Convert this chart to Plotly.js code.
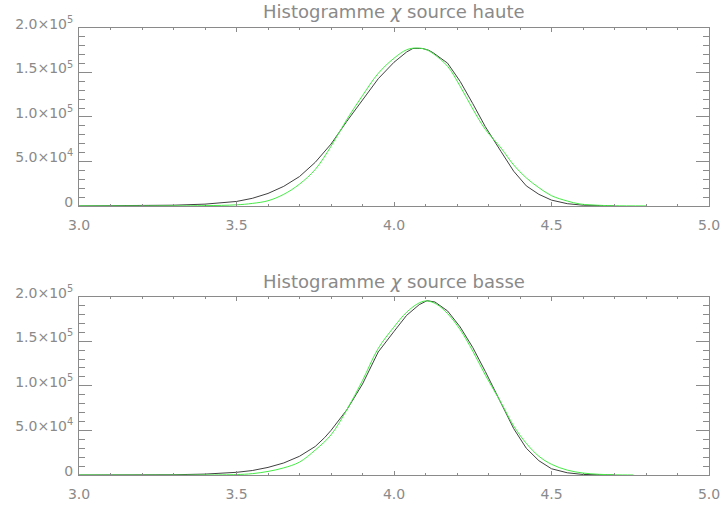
<!DOCTYPE html>
<html>
<head>
<meta charset="utf-8">
<script src="https://cdn.plot.ly/plotly-3.0.1.min.js"></script>
<style>html,body{margin:0;padding:0;background:#fff;}#chart{width:720px;height:506px;}</style>
</head>
<body>
<div id="chart"></div>
<script>
// ---- Data ----
const titleHaute = "Histogramme <i>χ</i> source haute";
const titleBasse = "Histogramme <i>χ</i> source basse";

// Top panel: histogram (black) and gaussian fit (green)
const hauteHistX = [3.00,3.10,3.20,3.30,3.40,3.50,3.55,3.60,3.65,3.70,3.75,3.80,3.85,3.90,3.95,4.00,4.04,4.06,4.09,4.11,4.125,4.17,4.21,4.25,4.29,4.34,4.38,4.42,4.46,4.50,4.55,4.60,4.65,4.70];
const hauteHistY = [0,0,200,800,2000,5000,8500,14000,22000,33000,49000,69500,95000,119000,143000,161500,173000,177000,177000,175000,172000,160500,140000,115000,89000,61000,39000,22500,13000,6500,2500,800,200,0];
const hauteFitX = [3.00,3.30,3.40,3.50,3.55,3.60,3.65,3.70,3.75,3.80,3.85,3.90,3.95,4.00,4.04,4.07,4.10,4.125,4.17,4.21,4.25,4.29,4.34,4.38,4.42,4.46,4.50,4.55,4.59,4.65,4.70,4.80];
const hauteFitY = [0,0,300,1200,2800,5800,13000,24500,41000,67000,97000,124000,149000,166000,175500,177500,176000,171000,157000,134500,109000,86000,65000,46000,31500,20500,11500,5500,2200,700,200,0];

// Bottom panel
const basseHistX = [3.00,3.20,3.30,3.40,3.50,3.55,3.60,3.65,3.70,3.75,3.78,3.80,3.85,3.90,3.95,4.00,4.04,4.08,4.105,4.13,4.17,4.21,4.25,4.29,4.34,4.38,4.42,4.46,4.50,4.55,4.60,4.65,4.70];
const basseHistY = [0,0,300,1000,3000,5000,8500,13500,21000,32000,42000,50000,73000,102000,138000,161000,179000,191000,195500,194000,184000,166000,143000,116000,81000,52000,30000,16000,7000,2500,600,100,0];
const basseFitX = [3.00,3.40,3.50,3.55,3.60,3.65,3.70,3.75,3.80,3.85,3.90,3.95,4.00,4.04,4.08,4.104,4.135,4.17,4.21,4.25,4.29,4.34,4.38,4.42,4.46,4.50,4.55,4.60,4.65,4.70,4.76];
const basseFitY = [0,0,500,1500,4000,8000,14500,28000,45000,73000,106000,142000,166000,182500,193000,195200,191500,181000,163000,139000,112000,81000,55000,35500,21000,12000,5500,2200,800,200,0];

const xTickVals = [3.0,3.5,4.0,4.5,5.0];
const xTickText = ["3.0","3.5","4.0","4.5","5.0"];
const yTickVals = [0,50000,100000,150000,200000];
const yTickText = ["0","5.0×10<sup>4</sup>","1.0×10<sup>5</sup>","1.5×10<sup>5</sup>","2.0×10<sup>5</sup>"];

// ---- Styles ----
const histColor = "#404040";
const fitColor = "rgb(70,235,70)";
const axisColor = "#8a8a8a";
const textColor = "#8a8a8a";
const font = {family: "DejaVu Sans", size: 14, color: textColor};

const traces = [
  {x: hauteHistX, y: hauteHistY, xaxis: "x", yaxis: "y", mode: "lines", line: {color: histColor, width: 1}},
  {x: hauteFitX, y: hauteFitY, xaxis: "x", yaxis: "y", mode: "lines", line: {color: fitColor, width: 1, shape: "spline"}},
  {x: basseHistX, y: basseHistY, xaxis: "x2", yaxis: "y2", mode: "lines", line: {color: histColor, width: 1}},
  {x: basseFitX, y: basseFitY, xaxis: "x2", yaxis: "y2", mode: "lines", line: {color: fitColor, width: 1, shape: "spline"}}
];

function xax(anchor) {
  return {
    anchor: anchor, range: [3, 5], showgrid: false, zeroline: false,
    showline: true, linecolor: axisColor, linewidth: 1, mirror: "ticks",
    ticks: "inside", ticklen: 4, tickcolor: axisColor, tickwidth: 1,
    tickvals: xTickVals, ticktext: xTickText, tickfont: font,
    ticklabeloverflow: "allow", ticklabelstandoff: 6,
    minor: {dtick: 0.1, tick0: 3, ticks: "inside", ticklen: 2, tickcolor: axisColor, showgrid: false}
  };
}
function yax(anchor, domain) {
  return {
    anchor: anchor, domain: domain, range: [0, 200000], showgrid: false, zeroline: false,
    showline: true, linecolor: axisColor, linewidth: 1, mirror: "ticks",
    ticks: "inside", ticklen: 13, tickcolor: axisColor, tickwidth: 1,
    tickvals: yTickVals, ticktext: yTickText, tickfont: font,
    ticklabelshift: -4, ticklabelstandoff: 2,
    minor: {dtick: 10000, tick0: 0, ticks: "inside", ticklen: 6, tickcolor: axisColor, showgrid: false}
  };
}

const layout = {
  width: 720, height: 506,
  margin: {l: 79, r: 11, t: 28, b: 31},
  paper_bgcolor: "#fff", plot_bgcolor: "#fff",
  showlegend: false,
  font: font,
  xaxis: xax("y"),
  yaxis: yax("x", [0.602, 1]),
  xaxis2: xax("y2"),
  yaxis2: yax("x2", [0, 0.399]),
  annotations: [
    {text: titleHaute, xref: "paper", yref: "paper", x: 0.5, y: 1.036, xanchor: "center", yanchor: "middle", showarrow: false, font: {family: "DejaVu Sans", size: 18, color: textColor}},
    {text: titleBasse, xref: "paper", yref: "paper", x: 0.5, y: 0.434, xanchor: "center", yanchor: "middle", showarrow: false, font: {family: "DejaVu Sans", size: 18, color: textColor}}
  ]
};

Plotly.newPlot("chart", traces, layout, {staticPlot: true, displayModeBar: false});
</script>
</body>
</html>
